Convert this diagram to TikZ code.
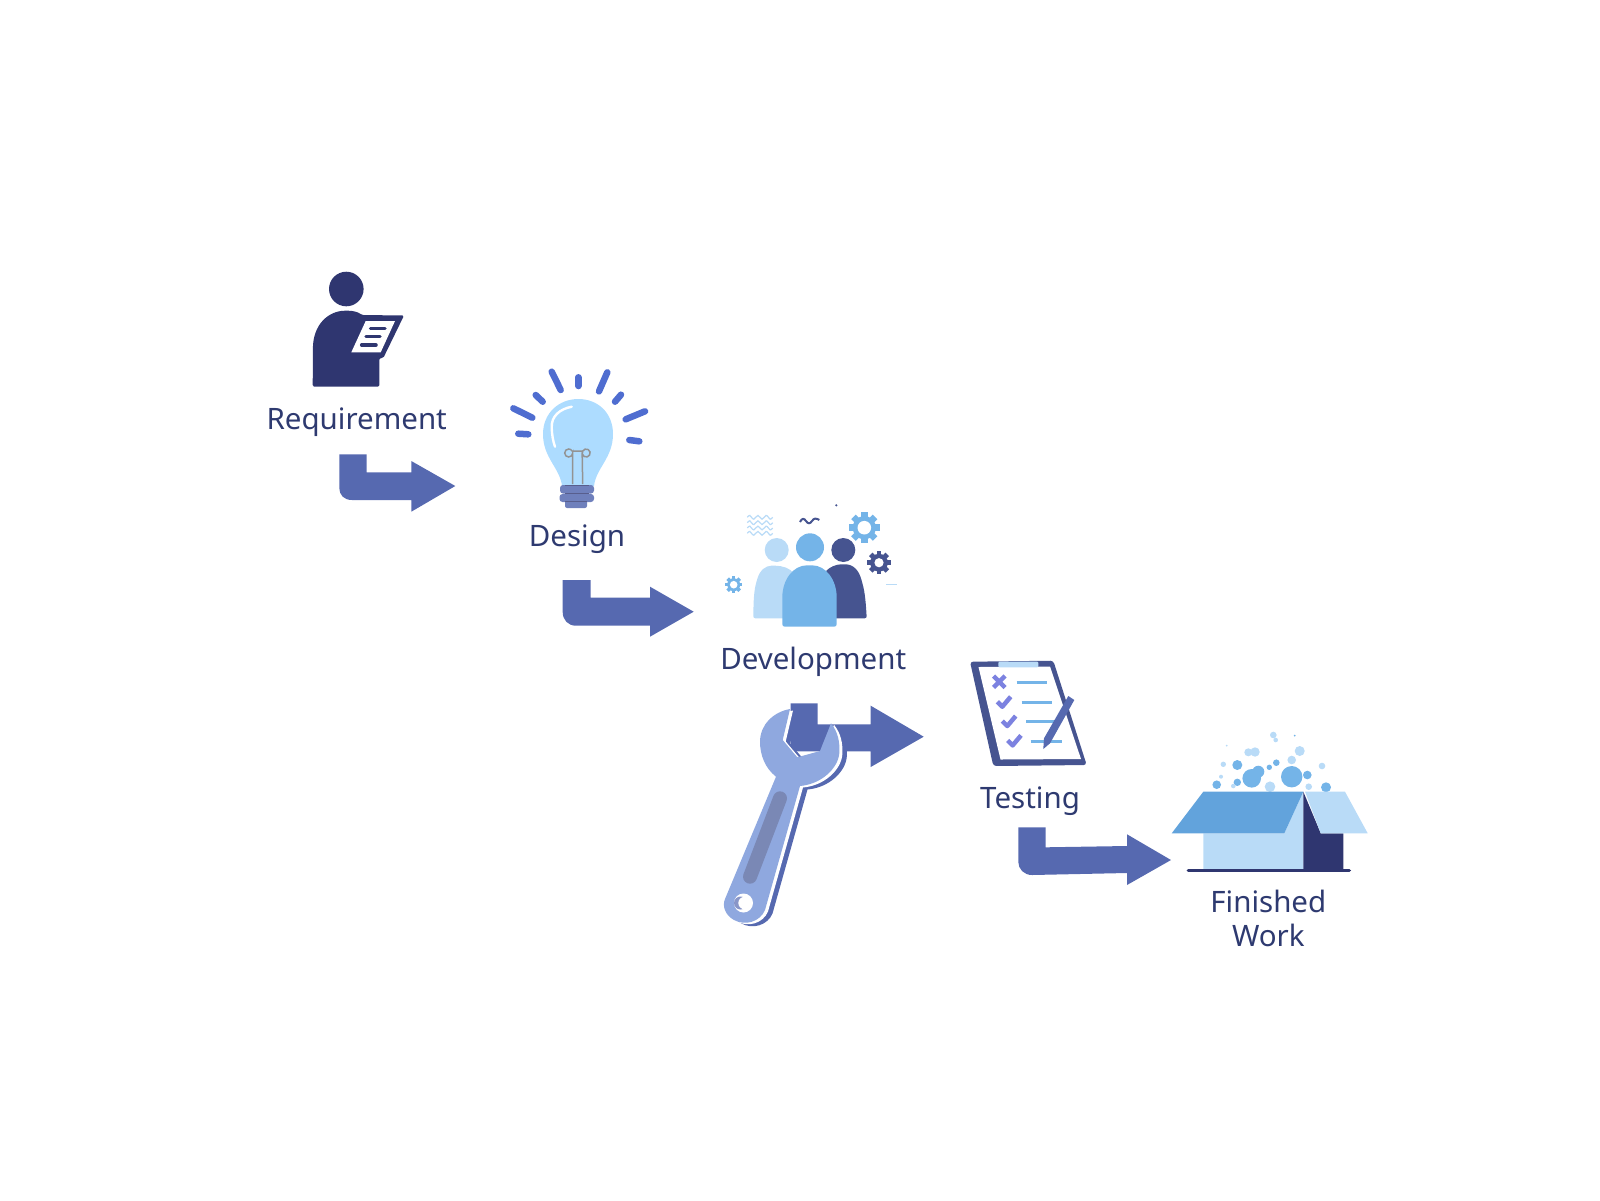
\documentclass[tikz,border=0pt]{standalone}
\usepackage{fontspec}
\setmainfont{Noto Sans}

\definecolor{navy}{HTML}{2F3670}
\definecolor{textnavy}{HTML}{2E3A70}
\definecolor{arrowblue}{HTML}{5669B0}
\definecolor{rayblue}{HTML}{4F6DD0}
\definecolor{bulbblue}{HTML}{ADDCFF}
\definecolor{midblue}{HTML}{74B4E8}
\definecolor{paleblue}{HTML}{B9DBF7}
\definecolor{teamdark}{HTML}{465490}
\definecolor{wrenchblue}{HTML}{8FA8DF}
\definecolor{gripgrey}{HTML}{7A88B5}
\definecolor{tickblue}{HTML}{7C82E0}
\definecolor{flapblue}{HTML}{62A3DC}

\tikzset{
	steplabel/.style={text=textnavy,font=\fontsize{29.5}{34}\selectfont,inner sep=0pt},
	bentfill/.style={fill=arrowblue},
	ray/.style={draw=rayblue,line width=6.5pt,line cap=round},
	wave/.style={draw=paleblue,line width=1.2pt},
	tick/.style={draw=tickblue,line width=4.5pt,line join=round},
	rule/.style={draw=midblue,line width=3pt},
}

% x, y, outer radius, hole radius, colour
\newcommand{\gearicon}[5]{
	\foreach \a in {0,45,...,315}
		\draw[#5,line width=#3*0.42pt] (#1,#2) ++(\a:#3*0.7) -- ++(\a:#3*0.3);
	\fill[#5] (#1,#2) circle (#3*0.76);
	\fill[white] (#1,#2) circle (#4);
}

\newcommand{\wrenchpath}{
	(790,709) -- (782.7,740) -- (797.3,757.3) -- (820,751) -- (831,723.3)
	.. controls (838,732) and (840,742) .. (839.3,753.3)
	.. controls (838,768) and (822,784) .. (800,786)
	-- (765,910) .. controls (760,922) and (745,926) .. (734,920)
	.. controls (725,915) and (722,906) .. (725,899)
	-- (776,776.7) .. controls (765,768) and (760,755) .. (760,741.7)
	.. controls (760,725) and (773,712) .. (790,709) -- cycle
}

\begin{document}
\begin{tikzpicture}[x=1pt,y=-1pt]

	\useasboundingbox (0,0) rectangle (1600,1200);

	% requirement
	\fill[navy] (346.3,289) circle (17.3);
	\fill[navy,rounded corners=1.5pt] (312.7,386.7) -- (379.3,386.7) -- (379.3,358) -- (383.3,358) -- (404,315.5) -- (362,315)
		.. controls (358,312) and (353,310.7) .. (346.7,310.7) .. controls (328,310.7) and (312.9,325) .. (312.9,350) -- cycle;
	\fill[white] (365.7,321) -- (395,321) -- (380.7,352.3) -- (351.3,352.3) -- cycle;
	\draw[navy,line width=3.5pt,line cap=round] (370.5,328.3) -- (385,328.3);
	\draw[navy,line width=3.5pt,line cap=round] (366,336.7) -- (380,336.7);
	\draw[navy,line width=3.5pt,line cap=round] (361.7,345) -- (376,345);
	\node[steplabel,anchor=base] (req) at (356.7,429.5) {Requirement};

	\fill[bentfill] (339.3,454.3) -- (366.7,454.3) -- (366.7,472.3) -- (411.3,472.3) -- (411.3,461) -- (455.3,486) -- (411.3,511.7) -- (411.3,500)
		-- (352,500) .. controls (344,500) and (339.3,495) .. (339.3,488) -- cycle;

	% design
	\foreach \xa/\ya/\xb/\yb in {551.7/371.7/560.7/390,578.3/377.3/578.3/386,607.3/372.3/599/391.3,535.7/395/542.7/401.7,621/394.7/615/401.7,513.3/408.3/532.3/417.7,645/411.3/625.7/419.3,518.3/433.7/528.3/434.3,629.3/440/639.3/441.3}
		\draw[ray] (\xa,\ya) -- (\xb,\yb);
	\fill[bulbblue] (562,486) .. controls (560,468) and (543,458) .. (543,434) .. controls (543,413) and (559,399) .. (578.3,399)
		.. controls (598,399) and (613,413) .. (613,434) .. controls (613,458) and (596,468) .. (594,486) -- cycle;
	\draw[white,line width=2.4pt,line cap=round] (571.7,406.7) .. controls (560,409) and (551,416) .. (551.7,428) .. controls (552,435) and (553,441) .. (555,446.7);
	\draw[gray!85,line width=1.5pt] (572.7,484) -- (572.7,453) arc (0:330:4) -- (582.7,451) arc (210:-180:4) -- (582.7,484);
	\fill[arrowblue!85!white,rounded corners=3pt] (560,485) rectangle (594,493.5);
	\fill[arrowblue!85!white,rounded corners=3pt] (559.5,494) rectangle (594,502);
	\fill[arrowblue!85!white,rounded corners=2pt] (565,500) rectangle (587,508);
	\draw[navy!80,line width=1.3pt] (565,485.5) -- (589,485.5);
	\draw[navy!80,line width=1.3pt] (565,493.7) -- (589,493.7);
	\draw[navy!80,line width=1.3pt] (565,501.7) -- (587,501.7);
	\node[steplabel,anchor=base] (des) at (577,546.5) {Design};

	\fill[bentfill] (562.7,580) -- (590.7,580) -- (590.7,597.7) -- (650,597.7) -- (650,586.7) -- (693.7,611.7) -- (650,636.7) -- (650,625.7)
		-- (576,625.7) .. controls (568,625.7) and (562.7,620) .. (562.7,612) -- cycle;

	% development
	\foreach \y in {517.3,522.7,528,533.3}
		\draw[wave] (747.3,\y) .. controls (749,\y-2.5) and (751,\y-2.5) .. (751.5,\y) .. controls (753,\y+2.5) and (755,\y+2.5) .. (755.7,\y)
			.. controls (757,\y-2.5) and (759,\y-2.5) .. (760,\y) .. controls (761,\y+2.5) and (763,\y+2.5) .. (764.2,\y)
			.. controls (765,\y-2.5) and (767,\y-2.5) .. (768.4,\y) .. controls (769,\y+2.5) and (771,\y+2.5) .. (772.7,\y);
	\draw[teamdark,line width=2pt] (800,522) .. controls (802,518) and (804,518) .. (806,521) .. controls (808,524) and (810,524) .. (812,521)
		.. controls (814,518) and (816,518) .. (819.3,520);
	\fill[teamdark] (836.3,505.3) circle (1.2);
	\draw[paleblue,line width=1pt] (886,584.7) -- (897.3,584.7);
	\gearicon{864.3}{527.7}{15.3}{6.8}{midblue}
	\gearicon{879}{562.7}{11.7}{4.6}{teamdark}
	\gearicon{733.7}{584.7}{8.5}{3.8}{midblue}
	\fill[paleblue] (776.7,550) circle (12);
	\fill[paleblue,rounded corners=2pt] (753.3,618.3) .. controls (753.5,600) and (754,590) .. (757,580) .. controls (760,570) and (766,565.7) .. (773.3,565.7) .. controls (782,565.7) and (790,568) .. (795,575) -- (795,618.3) -- cycle;
	\fill[teamdark] (843.3,550) circle (12);
	\fill[teamdark,rounded corners=2pt] (825,618.3) -- (825,572) .. controls (830,567) and (836,564.3) .. (843.3,564.3) .. controls (853,564.3) and (859,570) .. (862,582) .. controls (865,592) and (866,605) .. (866.7,618.3) -- cycle;
	\fill[midblue] (810,547.3) circle (14);
	\fill[midblue,rounded corners=2.5pt] (782.3,626.7) -- (782.3,600) .. controls (782.3,580) and (793,565.3) .. (809.5,565.3) .. controls (826,565.3) and (836.7,580) .. (836.7,600) -- (836.7,626.7) -- cycle;
	\node[steplabel,anchor=base] (dev) at (813.2,669.5) {Development};

	\fill[bentfill] (790.7,703.3) -- (817.7,703.3) -- (817.7,724.3) -- (870.7,724.3) -- (870.7,705.7) -- (923.7,736.7) -- (870.7,767) -- (870.7,751.3) -- (790.7,751.3) -- cycle;

	% wrench
	\begin{scope}[shift={(7.5,3.5)}]
		\fill[arrowblue] \wrenchpath;
	\end{scope}
	\begin{scope}[shift={(3,1.5)}]
		\fill[white] \wrenchpath;
	\end{scope}
	\fill[wrenchblue] \wrenchpath;
	\draw[gripgrey,line width=14pt,line cap=round] (780,798.3) -- (750,876.7);
	\fill[white] (743.5,903) circle (9.5);
	\fill[arrowblue!70!white] (740.5,903) circle (6.5);
	\fill[white] (744.5,903) circle (6.2);

	% testing
	\fill[teamdark,rounded corners=3pt] (970,661.7) -- (1053.3,660.7) -- (1086.7,765) -- (993.3,766) -- cycle;
	\fill[white] (978.5,667) -- (1050,666.5) -- (1081,759) -- (1000.5,759.5) -- cycle;
	\fill[paleblue,rounded corners=1pt] (998.3,661.7) rectangle (1038.3,667.3);
	\draw[tick] (993.5,676) -- (1005,687.5) (1005,676) -- (993.5,687.5);
	\foreach \dx/\dy in {0/0,5/19.3,10.3/38.7}
		\draw[tick] (997.3+\dx,701.7+\dy) -- (1002.3+\dx,706.7+\dy) -- (1010.7+\dx,696.7+\dy);
	\draw[rule] (1016.7,682.3) -- (1047.3,682.3);
	\draw[rule] (1021.7,702) -- (1051.7,702);
	\draw[rule] (1026,721.7) -- (1055,721.7);
	\draw[rule] (1030.7,741.3) -- (1061.7,741.3);
	\fill[arrowblue] (1068.3,696) -- (1074.3,700) -- (1050,743.3) -- (1043.3,749) -- (1044,738.3) -- cycle;
	\node[steplabel,anchor=base] (tes) at (1030,808) {Testing};

	\fill[bentfill] (1018.3,827.3) -- (1045.7,827.3) -- (1045.7,847.3) -- (1127,846) -- (1127,834.3) -- (1171,860) -- (1127,885) -- (1127,873)
		-- (1032,875) .. controls (1024,875) and (1018.3,869) .. (1018.3,862) -- cycle;

	% finished work
	\foreach \x/\y/\r in {1237.3/765/5,1216.7/784.7/4.3,1237.3/782.3/3.7,1251.7/778.3/9.3,1258.3/771.7/6,1269.3/767.3/2.7,1276.3/762.7/3.3,1291.7/776.7/10.7,1307.3/775/4.3,1326/787.3/5,1294.7/735.7/1}
		\fill[midblue] (\x,\y) circle (\r);
	\foreach \x/\y/\r in {1223.3/764.3/2.7,1221/776.7/2,1233.3/786/2.3,1291.7/760/4.3,1299.7/751/5,1322/766/3.3,1308.7/786.7/3.3,1270/786.7/5.3,1248.3/752.3/4,1255/752/4.7,1273.3/735/3.3,1275.7/740/2.3,1226.7/745.7/1}
		\fill[paleblue] (\x,\y) circle (\r);
	\fill[paleblue] (1203.3,833.3) -- (1284.3,833.3) -- (1303.3,791.7) -- (1303.3,869.3) -- (1203.3,869.3) -- cycle;
	\fill[navy] (1303.3,791.7) -- (1320.7,833.3) -- (1343.3,833.3) -- (1343.3,869.3) -- (1303.3,869.3) -- cycle;
	\fill[paleblue] (1305,791.7) -- (1345,791.7) -- (1367.7,833.3) -- (1320.7,833.3) -- cycle;
	\fill[flapblue] (1203.3,791.7) -- (1303.3,791.7) -- (1284.3,833.3) -- (1171.7,833.3) -- cycle;
	\draw[navy,line width=3.5pt,line cap=round] (1188.3,870.7) -- (1349.3,870.7);
	\node[steplabel,align=center] (fin) at (1268.3,918.5) {Finished\\Work};

\end{tikzpicture}
\end{document}
